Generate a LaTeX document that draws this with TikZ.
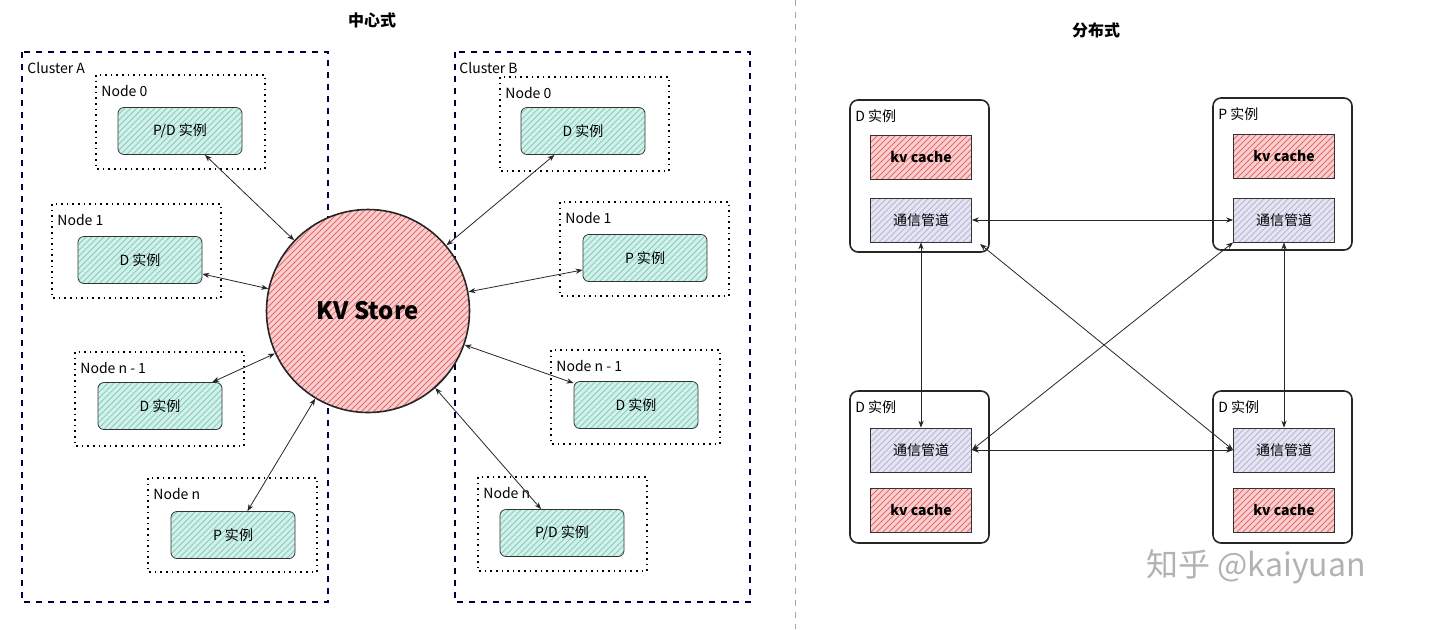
\documentclass[tikz,border=0pt]{standalone}
\usepackage{fontspec}
\setmainfont{Noto Sans CJK SC}
\usetikzlibrary{patterns,arrows.meta}
\definecolor{tealf}{HTML}{D5F0EA}
\definecolor{tealh}{HTML}{7FD1BE}
\definecolor{redf}{HTML}{F9D0D0}
\definecolor{redh}{HTML}{E86A6A}
\definecolor{bluef}{HTML}{E4E4F2}
\definecolor{blueh}{HTML}{B8B8D8}
\begin{document}
\begin{tikzpicture}[x=0.5pt,y=-0.5pt,
  cl/.style={draw=black!75!blue,dashed,thick},
  nd/.style={draw=black,dotted,thick},
  inst/.style={draw=black!80,rounded corners=3pt,preaction={fill=tealf},pattern=north east lines,pattern color=tealh},
  kv/.style={draw=black!80,preaction={fill=redf},pattern=north east lines,pattern color=redh},
  ch/.style={draw=black!80,preaction={fill=bluef},pattern=north east lines,pattern color=blueh},
  outer/.style={draw=black!85,thick,rounded corners=4pt},
  lab/.style={font=\fontsize{7}{8}\selectfont,anchor=west,inner sep=0pt},
  txt/.style={font=\fontsize{7}{8}\selectfont},
  arr/.style={{Stealth[length=3.5pt]}-{Stealth[length=3.5pt]},black!85}]
\useasboundingbox (0,0) rectangle (1440,629);
\node[font=\bfseries\fontsize{8}{9}\selectfont] (t1) at (372,20) {中心式};
\node[font=\bfseries\fontsize{8}{9}\selectfont] (t2) at (1096,30) {分布式};
\draw[gray!70,dashed] (795,0) -- (795,629);
% clusters
\draw[cl] (22,52) rectangle (328,602);
\node[lab] (ca) at (27,68) {Cluster A};
\draw[cl] (455,52) rectangle (750,602);
\node[lab] (cb) at (459,68) {Cluster B};
% circle
\node[circle,draw=black!85,thick,minimum size=101.5pt,inner sep=0pt,preaction={fill=redf},pattern=north east lines,pattern color=redh,font=\bfseries\fontsize{12}{14}\selectfont] (kvs) at (368,311) {KV Store};
% nodes
\newcommand{\nodebox}[7]{%
 \draw[nd] (#1,#2) rectangle ++(169,94);
 \node[lab] at (#1+5,#2+16) {#3};
 \node[inst,txt,minimum width=62pt,minimum height=23.5pt] (#7) at (#4,#5) {#6};
 \draw[arr] (#7) -- (kvs);}
\nodebox{96}{75}{Node 0}{180}{131}{P/D 实例}{a0}
\nodebox{52}{204}{Node 1}{140}{260}{D 实例}{a1}
\nodebox{75}{352}{Node n - 1}{160}{406}{D 实例}{a2}
\nodebox{148}{478}{Node n}{233}{535}{P 实例}{a3}
\nodebox{500}{77}{Node 0}{583}{131}{D 实例}{b0}
\nodebox{560}{202}{Node 1}{645}{258}{P 实例}{b1}
\nodebox{551}{350}{Node n - 1}{636}{405}{D 实例}{b2}
\nodebox{478}{477}{Node n}{562}{533}{P/D 实例}{b3}
% right side
\newcommand{\inst}[8]{%
 \draw[outer] (#1,#2) rectangle ++(139,152);
 \node[lab] at (#1+5,#2+16) {#3};
 \node[kv,txt,font=\bfseries\fontsize{7}{8}\selectfont,minimum width=50.5pt,minimum height=22pt] (#7) at (#1+71,#4) {kv cache};
 \node[ch,txt,minimum width=50.5pt,minimum height=22pt] (#8) at (#1+71,#5) {通信管道};}
\inst{850}{100}{D 实例}{157}{220}{}{k1}{c1}
\inst{1213}{98}{P 实例}{156}{220}{}{k2}{c2}
\inst{850}{391}{D 实例}{510}{450}{}{k3}{c3}
\inst{1213}{391}{D 实例}{510}{450}{}{k4}{c4}
\draw[arr] (c1) -- (c2);
\draw[arr] (c3) -- (c4);
\draw[arr] (c1.south) -- (c3.north);
\draw[arr] (c2.south) -- (c4.north);
\coordinate (d1) at (980,244);
\draw[arr] (d1) -- (c4.west);
\draw[arr] (c2.south west) -- (c3.east);
\node[gray!60,font=\fontsize{16}{19}\selectfont] (wm) at (1256,567) {知乎 @kaiyuan};
\end{tikzpicture}
\end{document}
